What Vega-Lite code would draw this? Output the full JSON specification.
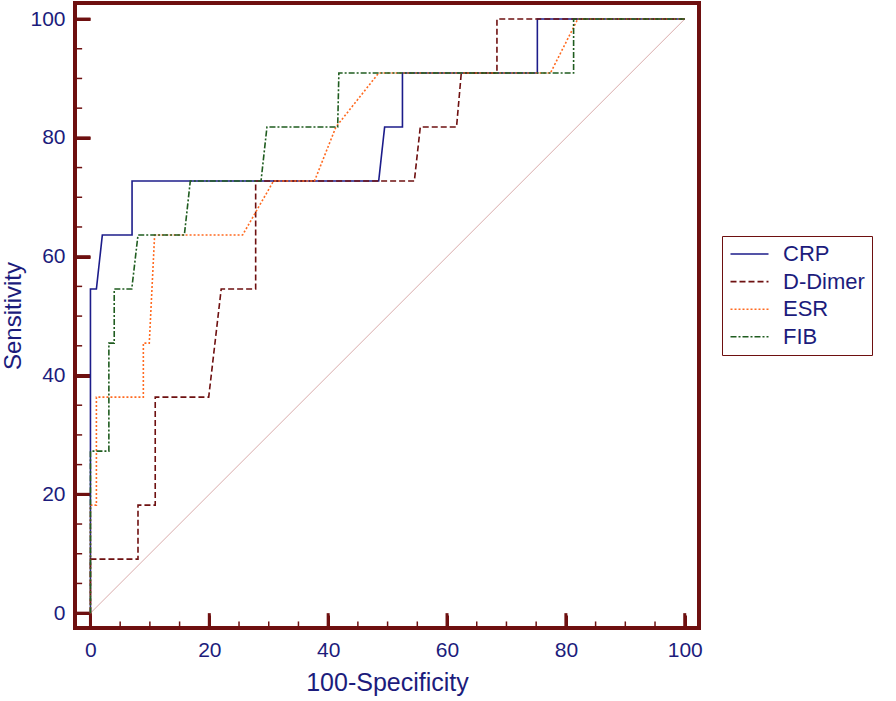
{
  "$schema": "https://vega.github.io/schema/vega-lite/v6.json",
  "width": 624,
  "height": 625,
  "autosize": "none",
  "padding": {"left": 75, "top": 3, "right": 197, "bottom": 73},
  "background": "white",
  "config": {
    "view": {"stroke": "#6e1010", "strokeWidth": 4},
    "font": "Liberation Sans",
    "legend": {"orient": "none", "legendX": 647, "legendY": 233, "title": "    ", "titleOrient": "right", "titleFontSize": 22, "titlePadding": 0, "symbolType": "M-1,0H3", "symbolSize": 361, "symbolStrokeWidth": 1.6, "labelFontSize": 22, "labelColor": "#1c1c7c", "labelFont": "Liberation Sans", "strokeColor": "#6e1010", "fillColor": "white", "padding": 7, "rowPadding": 5.6, "labelOffset": 32}
  },
  "datasets": {
    "diag": [{"x": 0, "y": 0}, {"x": 100, "y": 100}],
    "major": [{"v": 0}, {"v": 20}, {"v": 40}, {"v": 60}, {"v": 80}, {"v": 100}],
    "minor": [{"v": 5}, {"v": 10}, {"v": 15}, {"v": 25}, {"v": 30}, {"v": 35}, {"v": 45}, {"v": 50}, {"v": 55}, {"v": 65}, {"v": 70}, {"v": 75}, {"v": 85}, {"v": 90}, {"v": 95}],
    "roc": [
      {"s": "CRP", "i": 0, "x": 0, "y": 0},
      {"s": "CRP", "i": 1, "x": 0, "y": 54.55},
      {"s": "CRP", "i": 2, "x": 1, "y": 54.55},
      {"s": "CRP", "i": 3, "x": 2, "y": 63.64},
      {"s": "CRP", "i": 4, "x": 7, "y": 63.64},
      {"s": "CRP", "i": 5, "x": 7, "y": 72.73},
      {"s": "CRP", "i": 6, "x": 48.5, "y": 72.73},
      {"s": "CRP", "i": 7, "x": 49.5, "y": 81.82},
      {"s": "CRP", "i": 8, "x": 52.5, "y": 81.82},
      {"s": "CRP", "i": 9, "x": 52.5, "y": 90.91},
      {"s": "CRP", "i": 10, "x": 75.2, "y": 90.91},
      {"s": "CRP", "i": 11, "x": 75.2, "y": 100},
      {"s": "CRP", "i": 12, "x": 100, "y": 100},
      {"s": "D-Dimer", "i": 0, "x": 0, "y": 0},
      {"s": "D-Dimer", "i": 1, "x": 0, "y": 9.09},
      {"s": "D-Dimer", "i": 2, "x": 8, "y": 9.09},
      {"s": "D-Dimer", "i": 3, "x": 8, "y": 18.18},
      {"s": "D-Dimer", "i": 4, "x": 10.9, "y": 18.18},
      {"s": "D-Dimer", "i": 5, "x": 10.9, "y": 36.36},
      {"s": "D-Dimer", "i": 6, "x": 19.9, "y": 36.36},
      {"s": "D-Dimer", "i": 7, "x": 22, "y": 54.55},
      {"s": "D-Dimer", "i": 8, "x": 27.8, "y": 54.55},
      {"s": "D-Dimer", "i": 9, "x": 27.8, "y": 72.73},
      {"s": "D-Dimer", "i": 10, "x": 54.5, "y": 72.73},
      {"s": "D-Dimer", "i": 11, "x": 55.5, "y": 81.82},
      {"s": "D-Dimer", "i": 12, "x": 61.6, "y": 81.82},
      {"s": "D-Dimer", "i": 13, "x": 62.4, "y": 90.91},
      {"s": "D-Dimer", "i": 14, "x": 68.4, "y": 90.91},
      {"s": "D-Dimer", "i": 15, "x": 68.4, "y": 100},
      {"s": "D-Dimer", "i": 16, "x": 100, "y": 100},
      {"s": "ESR", "i": 0, "x": 0, "y": 0},
      {"s": "ESR", "i": 1, "x": 0, "y": 18.18},
      {"s": "ESR", "i": 2, "x": 1, "y": 18.18},
      {"s": "ESR", "i": 3, "x": 1, "y": 36.36},
      {"s": "ESR", "i": 4, "x": 8.9, "y": 36.36},
      {"s": "ESR", "i": 5, "x": 8.9, "y": 45.45},
      {"s": "ESR", "i": 6, "x": 9.9, "y": 45.45},
      {"s": "ESR", "i": 7, "x": 10.8, "y": 63.64},
      {"s": "ESR", "i": 8, "x": 25.6, "y": 63.64},
      {"s": "ESR", "i": 9, "x": 30.8, "y": 72.73},
      {"s": "ESR", "i": 10, "x": 37.7, "y": 72.73},
      {"s": "ESR", "i": 11, "x": 41.3, "y": 81.82},
      {"s": "ESR", "i": 12, "x": 48.5, "y": 90.91},
      {"s": "ESR", "i": 13, "x": 77.4, "y": 90.91},
      {"s": "ESR", "i": 14, "x": 82, "y": 100},
      {"s": "ESR", "i": 15, "x": 100, "y": 100},
      {"s": "FIB", "i": 0, "x": 0, "y": 0},
      {"s": "FIB", "i": 1, "x": 0, "y": 27.27},
      {"s": "FIB", "i": 2, "x": 3.1, "y": 27.27},
      {"s": "FIB", "i": 3, "x": 3.1, "y": 45.45},
      {"s": "FIB", "i": 4, "x": 4, "y": 45.45},
      {"s": "FIB", "i": 5, "x": 4, "y": 54.55},
      {"s": "FIB", "i": 6, "x": 6.95, "y": 54.55},
      {"s": "FIB", "i": 7, "x": 8, "y": 63.64},
      {"s": "FIB", "i": 8, "x": 15.8, "y": 63.64},
      {"s": "FIB", "i": 9, "x": 16.8, "y": 72.73},
      {"s": "FIB", "i": 10, "x": 28.7, "y": 72.73},
      {"s": "FIB", "i": 11, "x": 29.7, "y": 81.82},
      {"s": "FIB", "i": 12, "x": 41.6, "y": 81.82},
      {"s": "FIB", "i": 13, "x": 41.8, "y": 90.91},
      {"s": "FIB", "i": 14, "x": 81.3, "y": 90.91},
      {"s": "FIB", "i": 15, "x": 81.3, "y": 100},
      {"s": "FIB", "i": 16, "x": 100, "y": 100}
    ]
  },
  "layer": [
    {
      "data": {"name": "diag"},
      "mark": {"type": "line", "color": "#d9abab", "strokeWidth": 1},
      "encoding": {
        "x": {"field": "x", "type": "quantitative", "scale": {"domain": [-2.6, 102.4], "nice": false, "zero": false},
          "axis": {"orient": "bottom", "offset": -13, "domain": false, "grid": false, "ticks": true, "tickColor": "#6e1010", "values": [0, 20, 40, 60, 80, 100], "tickSize": 13, "tickWidth": 3, "labelColor": "#1c1c7c", "labelFont": "Liberation Sans", "labelFontSize": 21, "labelPadding": 11, "title": "100-Specificity", "titleColor": "#1c1c7c", "titleFont": "Liberation Sans", "titleFontWeight": "normal", "titleFontSize": 25, "titlePadding": 10}},
        "y": {"field": "y", "type": "quantitative", "scale": {"domain": [-2.5, 102.7], "nice": false, "zero": false},
          "axis": {"orient": "left", "offset": -15, "domain": false, "grid": false, "ticks": true, "tickColor": "#6e1010", "values": [0, 20, 40, 60, 80, 100], "tickSize": 15, "tickWidth": 3, "labelColor": "#1c1c7c", "labelFont": "Liberation Sans", "labelFontSize": 21, "labelPadding": 10, "title": "Sensitivity", "titleColor": "#1c1c7c", "titleFont": "Liberation Sans", "titleFontWeight": "normal", "titleFontSize": 24, "titlePadding": 4}}
      }
    },
    {
      "data": {"name": "major"},
      "mark": {"type": "rule", "color": "#6e1010", "strokeWidth": 3},
      "encoding": {"x": {"field": "v", "type": "quantitative"}, "y": {"datum": -2.5}, "y2": {"datum": 0}}
    },
    {
      "data": {"name": "minor"},
      "mark": {"type": "rule", "color": "#6e1010", "strokeWidth": 1.5},
      "encoding": {"x": {"field": "v", "type": "quantitative"}, "y": {"datum": -2.5}, "y2": {"datum": -1.4}}
    },
    {
      "data": {"name": "major"},
      "mark": {"type": "rule", "color": "#6e1010", "strokeWidth": 3},
      "encoding": {"y": {"field": "v", "type": "quantitative"}, "x": {"datum": -2.6}, "x2": {"datum": 0}}
    },
    {
      "data": {"name": "minor"},
      "mark": {"type": "rule", "color": "#6e1010", "strokeWidth": 1.5},
      "encoding": {"y": {"field": "v", "type": "quantitative"}, "x": {"datum": -2.6}, "x2": {"datum": -1.4}}
    },
    {
      "data": {"name": "roc"},
      "mark": {"type": "line", "strokeWidth": 1.6},
      "encoding": {
        "x": {"field": "x", "type": "quantitative"},
        "y": {"field": "y", "type": "quantitative"},
        "order": {"field": "i", "type": "quantitative"},
        "color": {"field": "s", "type": "nominal",
          "scale": {"domain": ["CRP", "D-Dimer", "ESR", "FIB"], "range": ["#1c1c8a", "#6e1010", "#ff6a20", "#1f5c1f"]}},
        "strokeDash": {"field": "s", "type": "nominal",
          "scale": {"domain": ["CRP", "D-Dimer", "ESR", "FIB"], "range": [[1, 0], [6, 3], [2, 2], [6, 2, 2, 2]]}}
      }
    }
  ]
}
